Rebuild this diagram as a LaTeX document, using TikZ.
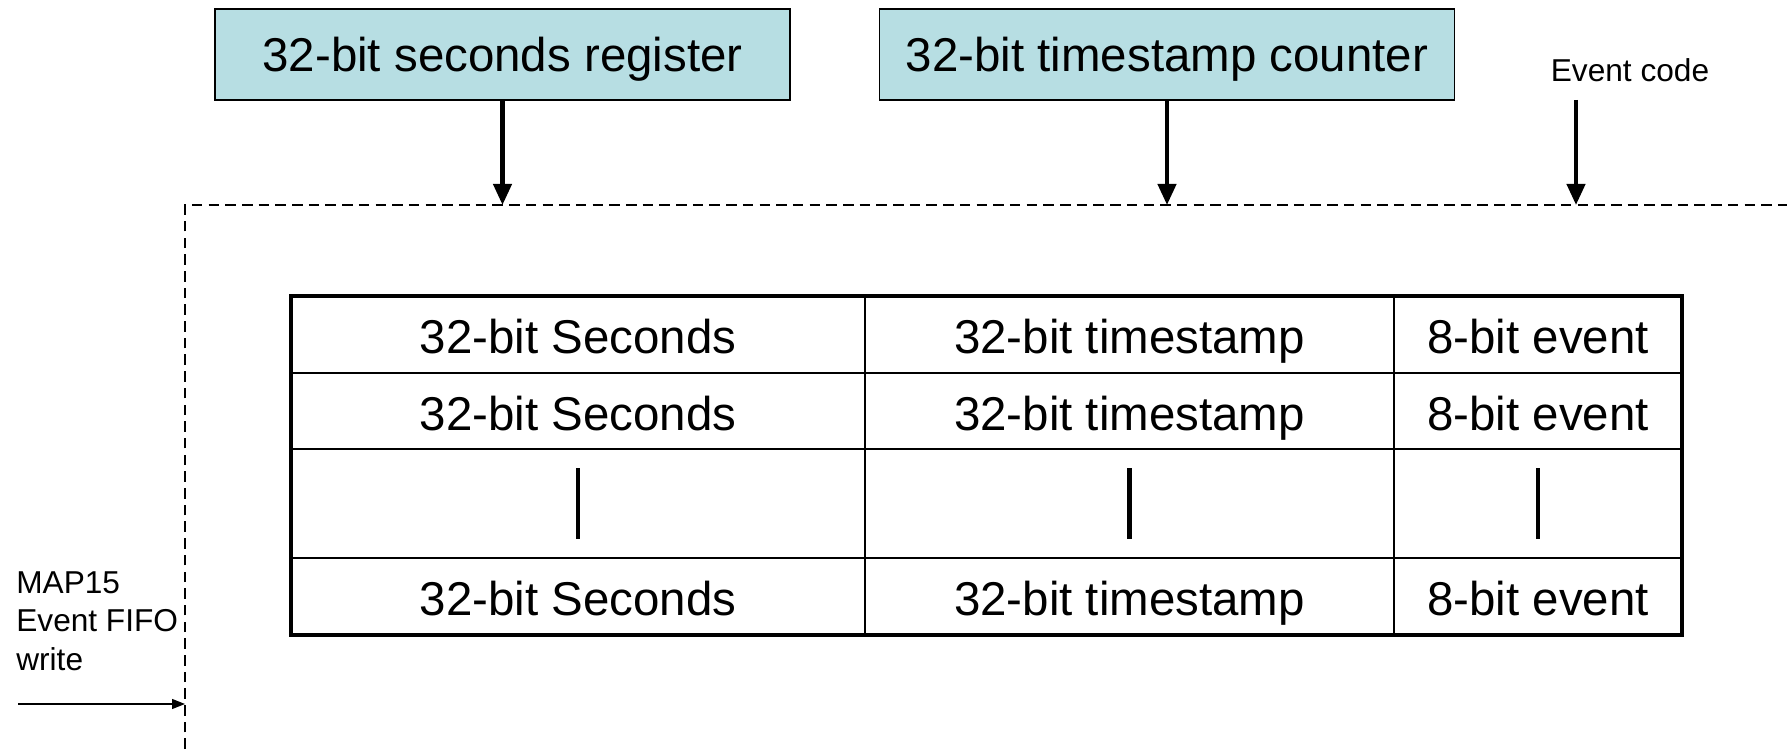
\documentclass[tikz,border=0pt]{standalone}
\usepackage{fontspec}
\setmainfont{Liberation Sans}
\usepackage{xcolor}
\usetikzlibrary{arrows.meta,positioning}
\definecolor{regblue}{RGB}{183,222,227}

\begin{document}
\begin{tikzpicture}[
  reg/.style={draw, rectangle, fill=regblue, minimum width=11.5cm, minimum height=1.82cm, line width=0.8pt, text height=0.88cm, text depth=0.2cm, font=\fontsize{27}{32}\selectfont},
  cell/.style={draw, rectangle, inner sep=0pt, outer sep=0pt, line width=1.1pt, minimum height=1.54cm, font=\fontsize{27}{32}\selectfont},
  entry/.style={cell, text height=0.98cm, text depth=0.2cm},
  small/.style={font=\fontsize{18}{22}\selectfont},
  bus/.style={-{Triangle[length=0.42cm,width=0.36cm]}, line width=2.4pt},
  wrarrow/.style={-{Triangle[length=0.26cm,width=0.2cm]}, line width=0.8pt},
  fifo/.style={dash pattern=on 6pt off 3.5pt, line width=0.8pt},
]

\useasboundingbox (0,0) rectangle (35.74,14.98);

% ============ source registers ============
\node[reg] (secreg) at (10.05,13.89) {32-bit seconds register};
\node[reg] (tsreg) at (23.34,13.89) {32-bit timestamp counter};
\node[small] (evcode) at (32.6,13.58) {Event code};
\coordinate (evsrc) at (31.52,12.98);

% ============ FIFO boundary (dashed, runs off the page) ============
\coordinate (fifoSW) at (3.7,0);
\coordinate (fifoNE) at (35.74,10.88);
\draw[fifo] (fifoSW) |- (fifoNE);

% ============ FIFO entries ============
\node[entry, minimum width=11.48cm] (s1) at (11.56,8.29) {32-bit Seconds};
\node[entry, minimum width=10.58cm, right=0pt of s1] (t1) {32-bit timestamp};
\node[entry, minimum width=5.76cm, right=0pt of t1] (e1) {8-bit event};

\node[entry, minimum width=11.48cm, minimum height=1.52cm, below=0pt of s1] (s2) {32-bit Seconds};
\node[entry, minimum width=10.58cm, minimum height=1.52cm, right=0pt of s2] (t2) {32-bit timestamp};
\node[entry, minimum width=5.76cm, minimum height=1.52cm, right=0pt of t2] (e2) {8-bit event};

\node[cell, minimum width=11.48cm, minimum height=2.18cm, below=0pt of s2] (s3) {\rule{2.4pt}{1.42cm}};
\node[cell, minimum width=10.58cm, minimum height=2.18cm, right=0pt of s3] (t3) {\rule{2.4pt}{1.42cm}};
\node[cell, minimum width=5.76cm, minimum height=2.18cm, right=0pt of t3] (e3) {\rule{2.4pt}{1.42cm}};

\node[entry, minimum width=11.48cm, below=0pt of s3] (s4) {32-bit Seconds};
\node[entry, minimum width=10.58cm, right=0pt of s4] (t4) {32-bit timestamp};
\node[entry, minimum width=5.76cm, right=0pt of t4] (e4) {8-bit event};

\draw[line width=2.8pt] (s1.north west) rectangle (e4.south east);

% ============ write strobe ============
\node[small, align=left, anchor=north west, inner sep=0pt] (wrlbl) at (0.32,3.56) {MAP15\\Event FIFO\\write};
\coordinate (wrsrc) at (0.36,0.9);

% ===================== ARROWS =====================
\draw[bus] (secreg.south) -- (secreg.south |- fifoNE);
\draw[bus] (tsreg.south) -- (tsreg.south |- fifoNE);
\draw[bus] (evsrc) -- (evsrc |- fifoNE);
\draw[wrarrow] (wrsrc) -- (wrsrc -| fifoSW);

\end{tikzpicture}
\end{document}
